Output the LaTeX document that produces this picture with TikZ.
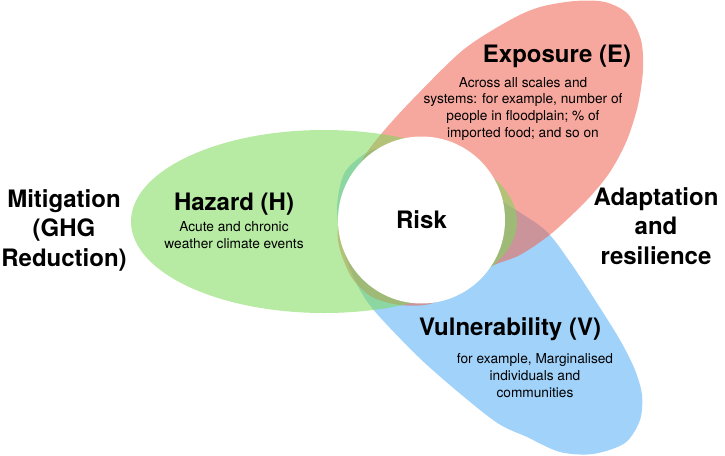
\documentclass[tikz,border=0pt]{standalone}
\usepackage{fontspec}
\setmainfont{TeX Gyre Heros}

\definecolor{hazgreen}{RGB}{124,217,88}
\definecolor{expred}{RGB}{240,97,79}
\definecolor{vulblue}{RGB}{82,173,246}

\begin{document}
\begin{tikzpicture}[x=1pt, y=-1pt,
    petal/.style={fill opacity=0.55},
    title/.style={font=\fontsize{24}{29.5}\selectfont\bfseries, align=center, inner sep=0pt},
    body/.style={font=\fontsize{13.7}{16.6}\selectfont, align=center, inner sep=0pt}]
    \useasboundingbox (0,0) rectangle (725,455);

    % the three petals
    \fill[petal, vulblue] plot[smooth cycle] coordinates {(372,150) (345,172) (337,210) (345,255)
        (360,290) (378,315) (427,365) (493,420) (527,437) (560,452) (593,454) (625,443)
        (640,420) (642,395) (635,370) (620,340) (595,300) (570,262) (545,230) (505,203)
        (470,180) (430,160) (398,150)};
    \fill[petal, expred] plot[smooth cycle] coordinates {(382,133) (412,100) (463,50) (510,20)
        (540,7) (575,1) (605,2) (628,14) (641,40) (643,70) (638,105) (627,140) (610,172)
        (587,200) (552,233) (520,255) (490,267) (458,290) (430,304) (400,305) (372,297)
        (352,278) (340,250) (338,228) (348,195) (362,160)};
    \fill[petal, hazgreen] (324,221.5) ellipse [x radius=193, y radius=91.5];

    \node[circle, fill=white, inner sep=0pt, minimum size=167pt,
          font=\fontsize{24}{29}\selectfont\bfseries] (risk) at (421.5,220) {Risk};

    \node[title, anchor=base] (hazard) at (234,210) {Hazard (H)};
    \node[body, anchor=base] (hazardtxt) at (234,248) {Acute and chronic\\weather climate events};

    \node[title, anchor=base] (exposure) at (557,62) {Exposure (E)};
    \node[body, anchor=base] (exposuretxt) at (523,137) {Across all scales and\\systems: for example, number of\\people in floodplain; \% of\\imported food; and so on};

    \node[title, anchor=base] (vuln) at (510,335) {Vulnerability (V)};
    \node[body, anchor=base] (vulntxt) at (535,397) {for example, Marginalised\\individuals and\\communities};

    \node[title, anchor=base] (mitigation) at (64,266) {Mitigation\\(GHG\\Reduction)};
    \node[title, anchor=base] (adaptation) at (656,264) {Adaptation\\and\\resilience};
\end{tikzpicture}
\end{document}
